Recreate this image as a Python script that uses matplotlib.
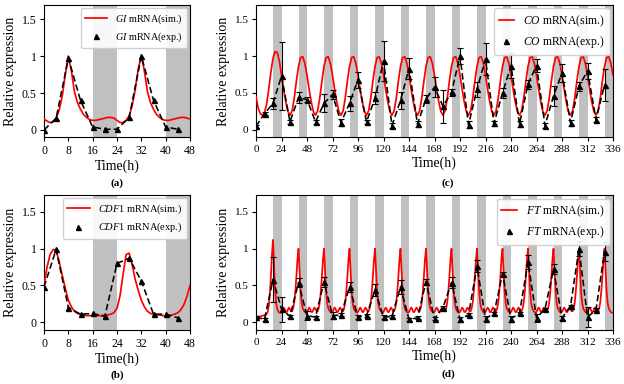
import numpy as np
import matplotlib
matplotlib.use('Agg')
import matplotlib.pyplot as plt

plt.rcParams['font.family'] = ['Liberation Serif', 'DejaVu Serif']
plt.rcParams['mathtext.fontset'] = 'custom'
plt.rcParams['mathtext.rm'] = 'Liberation Serif'
plt.rcParams['mathtext.it'] = 'Liberation Serif:italic'
plt.rcParams['mathtext.bf'] = 'Liberation Serif:bold'

# ---------------- data ----------------
t48 = np.arange(0, 49)          # hourly time grid, panels (a),(b)
t336_2h = np.arange(0, 337, 2)  # 2-hourly grid, panel (c)
t336_1h = np.arange(0, 337)     # hourly grid, panel (d)
t_exp48 = np.arange(0, 48, 4)
t_exp336 = np.arange(0, 336, 8)

gi_sim = [0.15, 0.12, 0.10, 0.11, 0.16, 0.27, 0.46, 0.75, 1.00, 0.80, 0.52, 0.37,
          0.28, 0.21, 0.17, 0.14, 0.13, 0.13, 0.14, 0.15, 0.16, 0.17, 0.17, 0.16,
          0.13, 0.10, 0.10, 0.13, 0.19, 0.33, 0.55, 0.83, 1.00, 0.80, 0.52, 0.37,
          0.28, 0.21, 0.17, 0.14, 0.13, 0.13, 0.14, 0.15, 0.16, 0.17, 0.17, 0.16,
          0.15]
gi_exp = [0.00, 0.16, 0.97, 0.40, 0.04, 0.01, 0.01, 0.17, 1.00, 0.40, 0.04, 0.01]

cdf1_sim = [0.50, 0.75, 0.92, 0.99, 0.98, 0.82, 0.64, 0.46, 0.30, 0.21, 0.15, 0.12,
            0.11, 0.10, 0.09, 0.09, 0.09, 0.09, 0.09, 0.09, 0.10, 0.10, 0.11, 0.13,
            0.19, 0.36, 0.65, 0.92, 0.94, 0.78, 0.58, 0.43, 0.30, 0.21, 0.15, 0.12,
            0.11, 0.10, 0.10, 0.09, 0.09, 0.09, 0.10, 0.11, 0.13, 0.17, 0.24, 0.35,
            0.50]
cdf1_exp = [0.48, 0.99, 0.20, 0.11, 0.12, 0.08, 0.80, 0.87, 0.56, 0.11, 0.11, 0.06]

co_sim = [0.45, 0.30, 0.22, 0.20, 0.23, 0.35, 0.55, 0.78, 0.97, 1.06, 1.05, 0.93,
          0.74, 0.55, 0.38, 0.25, 0.20, 0.26, 0.43, 0.66, 0.86, 0.98, 0.99, 0.90,
          0.74, 0.55, 0.38, 0.25, 0.20, 0.26, 0.43, 0.66, 0.86, 0.98, 0.99, 0.90,
          0.74, 0.55, 0.38, 0.25, 0.20, 0.26, 0.43, 0.66, 0.86, 0.98, 0.99, 0.90,
          0.74, 0.55, 0.38, 0.25, 0.20, 0.26, 0.43, 0.66, 0.86, 0.98, 0.99, 0.90,
          0.74, 0.55, 0.38, 0.25, 0.20, 0.26, 0.43, 0.66, 0.86, 0.98, 0.99, 0.90,
          0.74, 0.55, 0.38, 0.25, 0.20, 0.26, 0.43, 0.66, 0.86, 0.98, 0.99, 0.90,
          0.74, 0.55, 0.38, 0.25, 0.20, 0.26, 0.43, 0.66, 0.86, 0.98, 0.99, 0.90,
          0.74, 0.55, 0.38, 0.25, 0.20, 0.26, 0.43, 0.66, 0.86, 0.98, 0.99, 0.90,
          0.74, 0.55, 0.38, 0.25, 0.20, 0.26, 0.43, 0.66, 0.86, 0.98, 0.99, 0.90,
          0.74, 0.55, 0.38, 0.25, 0.20, 0.26, 0.43, 0.66, 0.86, 0.98, 0.99, 0.90,
          0.74, 0.55, 0.38, 0.25, 0.20, 0.26, 0.43, 0.66, 0.86, 0.98, 0.99, 0.90,
          0.74, 0.55, 0.38, 0.25, 0.20, 0.26, 0.43, 0.66, 0.86, 0.98, 0.99, 0.90,
          0.74, 0.55, 0.38, 0.25, 0.20, 0.26, 0.43, 0.66, 0.86, 0.98, 0.99, 0.90,
          0.74]
co_exp = [0.05, 0.22, 0.36, 0.73, 0.11, 0.44, 0.41, 0.11, 0.36, 0.48, 0.10, 0.36,
          0.68, 0.11, 0.43, 0.93, 0.06, 0.40, 0.83, 0.08, 0.42, 0.58, 0.32, 0.51,
          1.00, 0.07, 0.55, 0.96, 0.09, 0.50, 0.87, 0.08, 0.62, 0.87, 0.06, 0.46,
          0.77, 0.10, 0.59, 0.80, 0.14, 0.61]
co_err = [0.02, 0.02, 0.07, 0.46, 0.03, 0.08, 0.03, 0.03, 0.12, 0.06, 0.05, 0.10,
          0.11, 0.03, 0.08, 0.27, 0.04, 0.12, 0.14, 0.04, 0.05, 0.13, 0.22, 0.05,
          0.11, 0.05, 0.10, 0.22, 0.03, 0.07, 0.17, 0.04, 0.06, 0.09, 0.04, 0.13,
          0.12, 0.04, 0.06, 0.11, 0.03, 0.22]

ft_sim = [0.07, 0.07, 0.07, 0.08, 0.08, 0.08, 0.09, 0.09, 0.10, 0.10, 0.11, 0.14, 0.22, 0.38, 0.62, 0.92, 1.12, 0.80, 0.45, 0.26, 0.18, 0.15, 0.13, 0.13,
          0.14, 0.17, 0.20, 0.18, 0.14, 0.14, 0.17, 0.20, 0.18, 0.15, 0.15, 0.19, 0.27, 0.42, 0.62, 0.85, 1.00, 0.72, 0.42, 0.26, 0.19, 0.16, 0.14, 0.13,
          0.14, 0.17, 0.20, 0.18, 0.14, 0.14, 0.17, 0.20, 0.18, 0.15, 0.15, 0.19, 0.27, 0.42, 0.62, 0.85, 1.00, 0.72, 0.42, 0.26, 0.19, 0.16, 0.14, 0.13,
          0.14, 0.17, 0.20, 0.18, 0.14, 0.14, 0.17, 0.20, 0.18, 0.15, 0.15, 0.19, 0.27, 0.42, 0.62, 0.85, 1.00, 0.72, 0.42, 0.26, 0.19, 0.16, 0.14, 0.13,
          0.14, 0.17, 0.20, 0.18, 0.14, 0.14, 0.17, 0.20, 0.18, 0.15, 0.15, 0.19, 0.27, 0.42, 0.62, 0.85, 1.00, 0.72, 0.42, 0.26, 0.19, 0.16, 0.14, 0.13,
          0.14, 0.17, 0.20, 0.18, 0.14, 0.14, 0.17, 0.20, 0.18, 0.15, 0.15, 0.19, 0.27, 0.42, 0.62, 0.85, 1.00, 0.72, 0.42, 0.26, 0.19, 0.16, 0.14, 0.13,
          0.14, 0.17, 0.20, 0.18, 0.14, 0.14, 0.17, 0.20, 0.18, 0.15, 0.15, 0.19, 0.27, 0.42, 0.62, 0.85, 1.00, 0.72, 0.42, 0.26, 0.19, 0.16, 0.14, 0.13,
          0.14, 0.17, 0.20, 0.18, 0.14, 0.14, 0.17, 0.20, 0.18, 0.15, 0.15, 0.19, 0.27, 0.42, 0.62, 0.85, 1.00, 0.72, 0.42, 0.26, 0.19, 0.16, 0.14, 0.13,
          0.14, 0.17, 0.20, 0.18, 0.14, 0.14, 0.17, 0.20, 0.18, 0.15, 0.15, 0.19, 0.27, 0.42, 0.62, 0.85, 1.00, 0.72, 0.42, 0.26, 0.19, 0.16, 0.14, 0.13,
          0.14, 0.17, 0.20, 0.18, 0.14, 0.14, 0.17, 0.20, 0.18, 0.15, 0.15, 0.19, 0.27, 0.42, 0.62, 0.85, 1.00, 0.72, 0.42, 0.26, 0.19, 0.16, 0.14, 0.13,
          0.14, 0.17, 0.20, 0.18, 0.14, 0.14, 0.17, 0.20, 0.18, 0.15, 0.15, 0.19, 0.27, 0.42, 0.62, 0.85, 1.00, 0.72, 0.42, 0.26, 0.19, 0.16, 0.14, 0.13,
          0.14, 0.17, 0.20, 0.18, 0.14, 0.14, 0.17, 0.20, 0.18, 0.15, 0.15, 0.19, 0.27, 0.42, 0.62, 0.85, 1.00, 0.72, 0.42, 0.26, 0.19, 0.16, 0.14, 0.13,
          0.14, 0.17, 0.20, 0.18, 0.14, 0.14, 0.17, 0.20, 0.18, 0.15, 0.15, 0.19, 0.27, 0.42, 0.62, 0.85, 1.00, 0.72, 0.42, 0.26, 0.19, 0.16, 0.14, 0.13,
          0.14, 0.17, 0.20, 0.18, 0.14, 0.14, 0.17, 0.20, 0.18, 0.15, 0.15, 0.19, 0.27, 0.42, 0.62, 0.85, 1.00, 0.72, 0.42, 0.26, 0.19, 0.16, 0.14, 0.13,
          0.13]
ft_exp = [0.07, 0.04, 0.58, 0.18, 0.08, 0.54, 0.09, 0.07, 0.55, 0.09, 0.10, 0.48,
          0.07, 0.09, 0.44, 0.07, 0.08, 0.48, 0.04, 0.06, 0.55, 0.05, 0.20, 0.54,
          0.04, 0.10, 0.76, 0.05, 0.12, 0.66, 0.05, 0.12, 0.82, 0.06, 0.18, 0.72,
          0.06, 0.22, 1.00, 0.07, 0.17, 0.96]
ft_err = [0.02, 0.02, 0.31, 0.17, 0.02, 0.06, 0.06, 0.02, 0.07, 0.05, 0.02, 0.07,
          0.03, 0.02, 0.08, 0.03, 0.02, 0.09, 0.02, 0.02, 0.04, 0.02, 0.02, 0.08,
          0.03, 0.02, 0.08, 0.03, 0.02, 0.03, 0.04, 0.02, 0.10, 0.05, 0.02, 0.07,
          0.03, 0.02, 0.10, 0.14, 0.02, 0.13]

yticks = [0, 0.5, 1, 1.5]
ytick_labels = ['0', '0.5', '1', '1.5']

# ---------------- figure ----------------
W, H = 624, 384
fig = plt.figure(figsize=(W / 100, H / 100), dpi=100)


def box(l, t, r, b):
    return [l / W, 1 - b / H, (r - l) / W, (b - t) / H]


def panel(rect, t_sim, sim, t_exp, exp, err, gene, xmax, xstep, ylim,
          leg_fs, hl, tick_fs):
    ax = fig.add_axes(rect)
    for s in range(16, xmax, 24):
        ax.axvspan(s, min(s + 8, xmax), color='#c0c0c0', lw=0, zorder=0)
    ax.plot(t_sim, sim, color='red', lw=1.25, zorder=3,
            label=gene + ' mRNA(sim.)')
    ax.plot(t_exp, exp, color='black', lw=1.15, ls=(0, (4, 2)), zorder=4)
    if err is not None:
        ax.errorbar(t_exp, exp, yerr=err, fmt='none', ecolor='black',
                    elinewidth=0.8, capsize=2.5, capthick=0.8, zorder=4)
    ax.plot(t_exp, exp, ls='none', marker='^', ms=3.6, color='black', zorder=5,
            label=gene + ' mRNA(exp.)')
    ax.set_xlim(0, xmax)
    ax.set_ylim(*ylim)
    ax.set_xticks(np.arange(0, xmax + 1, xstep))
    ax.set_yticks(yticks)
    ax.set_yticklabels(ytick_labels)
    ax.tick_params(labelsize=tick_fs, length=3, width=0.8, pad=2.5)
    ax.set_xlabel('Time(h)', fontsize=10, labelpad=2)
    ax.set_ylabel('Relative expression', fontsize=10, labelpad=3)
    ax.legend(loc='upper right', fontsize=leg_fs, handlelength=hl,
              numpoints=1, borderaxespad=0.3, framealpha=0.9,
              edgecolor='0.8', handletextpad=0.8)
    return ax


panel(box(44, 5, 190, 137), t48, gi_sim, t_exp48, gi_exp, None,
      r'$\mathit{GI}$', 48, 8, (-0.095, 1.69), 7.3, 2.2, 8.5)
panel(box(256, 5, 613, 137), t336_2h, co_sim, t_exp336, co_exp, co_err,
      r'$\mathit{CO}$', 336, 24, (-0.095, 1.69), 8.4, 1.3, 8)
panel(box(44, 195, 190, 330), t48, cdf1_sim, t_exp48, cdf1_exp, None,
      r'$\mathit{CDF}$1', 48, 8, (-0.105, 1.73), 7.5, 2.2, 8.5)
panel(box(256, 195, 613, 330), t336_1h, ft_sim, t_exp336, ft_exp, ft_err,
      r'$\mathit{FT}$', 336, 24, (-0.105, 1.73), 8.4, 1.3, 8)

for x, y, s in [(117, 183, '(a)'), (448, 183, '(c)'),
                (117, 375, '(b)'), (448, 374, '(d)')]:
    fig.text(x / W, 1 - y / H, s, ha='center', va='center',
             fontweight='bold', fontsize=8)

fig.savefig('out.png', dpi=100)
